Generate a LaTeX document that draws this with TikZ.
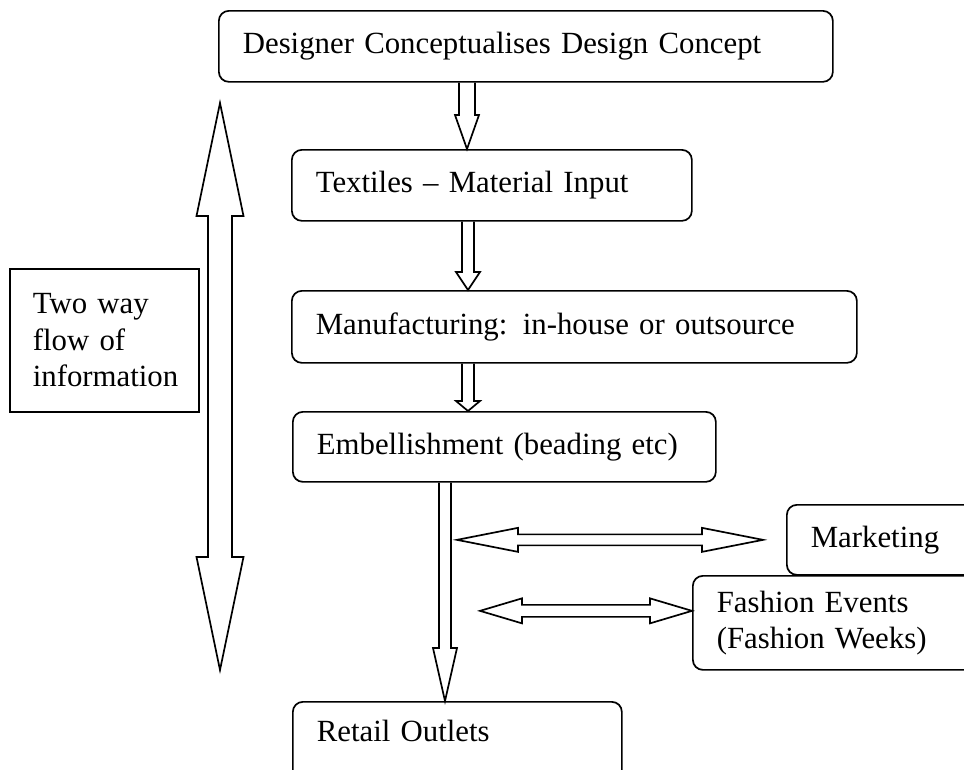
\documentclass[tikz,border=0pt]{standalone}
\usepackage{fontspec}
\setmainfont{Liberation Serif}
\usepackage{tikz}
\usetikzlibrary{calc,positioning}
\tikzset{
	x=1pt, y=-1pt,
	blockline/.style={draw=black, line width=1.7pt, line join=miter},
	stage/.style = {
			rectangle,
			draw            = black,
			line width      = 1.7pt,
			rounded corners = 10pt,
			anchor          = north west,
			align           = left,
			inner xsep      = 24pt,
			inner ysep      = 0pt,
			font            = \fontsize{30.8pt}{36.5pt}\selectfont,
		},
	note/.style = {
			stage,
			rounded corners = 0pt,
			inner xsep      = 23pt,
		}
}
% hollow block arrow: start, tip, shaft half width, head half width, head length
\newcommand{\blockarrow}[5]{
	\coordinate (ba-s) at (#1);
	\coordinate (ba-e) at (#2);
	\coordinate (ba-h) at ($(ba-e)!#5!(ba-s)$);
	\draw[blockline] ($(ba-s)!#3!90:(ba-e)$) -- ($(ba-h)!#3!90:(ba-e)$)
		-- ($(ba-h)!#4!90:(ba-e)$) -- (ba-e) -- ($(ba-h)!#4!-90:(ba-e)$)
		-- ($(ba-h)!#3!-90:(ba-e)$) -- ($(ba-s)!#3!-90:(ba-e)$);
}
% hollow arrow with a head at both ends
\newcommand{\twowayarrow}[5]{
	\coordinate (tw-a) at (#1);
	\coordinate (tw-b) at (#2);
	\coordinate (tw-ha) at ($(tw-a)!#5!(tw-b)$);
	\coordinate (tw-hb) at ($(tw-b)!#5!(tw-a)$);
	\draw[blockline] (tw-a) -- ($(tw-ha)!#4!90:(tw-b)$) -- ($(tw-ha)!#3!90:(tw-b)$)
		-- ($(tw-hb)!#3!-90:(tw-a)$) -- ($(tw-hb)!#4!-90:(tw-a)$) -- (tw-b)
		-- ($(tw-hb)!#4!90:(tw-a)$) -- ($(tw-hb)!#3!90:(tw-a)$)
		-- ($(tw-ha)!#3!-90:(tw-b)$) -- ($(tw-ha)!#4!-90:(tw-b)$) -- cycle;
}

\begin{document}
\begin{tikzpicture}
		\fill[white] (0,0) rectangle (964,769);
		\useasboundingbox (0,0) rectangle (964,769);

		\node[stage, text width=566pt, minimum height=71pt] (Design) at (218,10)
		{Designer Conceptualises Design Concept};
		\node[stage, text width=352pt, minimum height=71pt] (Textiles) at (291,149)
		{Textiles -- Material Input};
		\node[stage, text width=517pt, minimum height=72pt] (Manufacturing) at (291,290)
		{Manufacturing: in-house or outsource};
		\node[stage, text width=375pt, minimum height=70pt] (Embellishment) at (292,411)
		{Embellishment (beading etc)};
		\node[stage, text width=220pt, minimum height=70pt] (Marketing) at (786,504)
		{Marketing};
		\node[stage, text width=300pt, minimum height=94pt] (Fashion Events) at (692,575)
		{Fashion Events\\(Fashion Weeks)};
		\node[stage, text width=281pt, text depth=33pt, minimum height=90pt] (Retail) at (292,701)
		{Retail Outlets};
		\node[note, text width=143pt, minimum height=143pt] (Two Way) at (9,268)
		{Two way\\flow of\\information};

		% main chain
		\blockarrow{Design.south -| 467,0}{Textiles.north -| 467,0}{8pt}{12pt}{34pt}
		\blockarrow{Textiles.south -| 468,0}{Manufacturing.north -| 468,0}{6pt}{12pt}{18pt}
		\blockarrow{Manufacturing.south -| 468,0}{Embellishment.north -| 468,0}{6pt}{12pt}{10pt}
		\blockarrow{Embellishment.south -| 445,0}{Retail.north -| 445,-8}{6pt}{12pt}{53pt}

		% side links
		\coordinate (mkt-in) at (Marketing.west -| 457,0);
		\coordinate (mkt-out) at ($(Marketing.west)+(-23,0)$);
		\twowayarrow{mkt-in}{mkt-out}{5.5pt}{12pt}{61pt}
		\coordinate (fe-in) at ($(Fashion Events.west -| 480,0)+(0,-12)$);
		\coordinate (fe-out) at ($(Fashion Events.west)+(0,-12)$);
		\twowayarrow{fe-in}{fe-out}{6pt}{12.5pt}{42pt}

		% information flow
		\coordinate (flow-top) at (220,103);
		\coordinate (flow-bot) at (220,670);
		\twowayarrow{flow-top}{flow-bot}{12pt}{23.5pt}{113pt}
	\end{tikzpicture}
\end{document}
